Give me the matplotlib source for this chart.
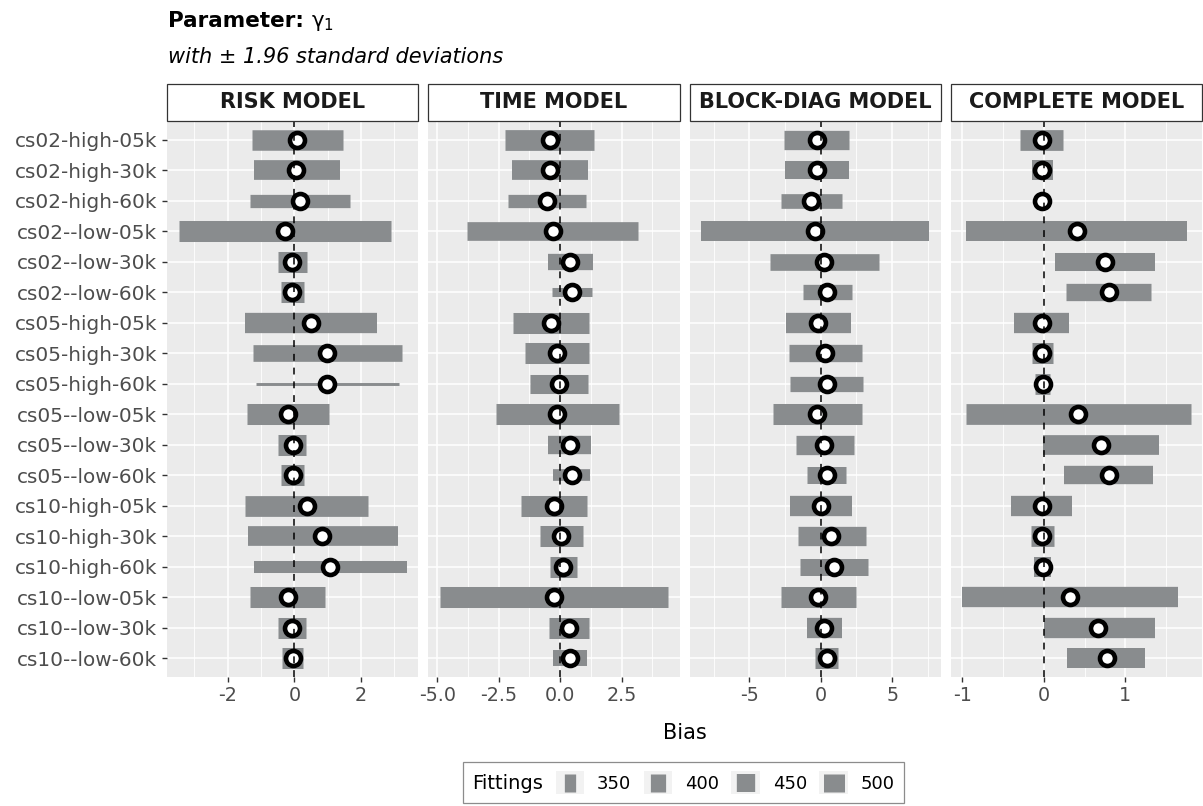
import matplotlib
matplotlib.use('Agg')
import matplotlib.pyplot as plt
import numpy as np
from matplotlib.lines import Line2D
from matplotlib.patches import Rectangle
from matplotlib.legend_handler import HandlerBase
from matplotlib.offsetbox import HPacker
from matplotlib.ticker import FixedLocator, FixedFormatter, AutoMinorLocator

plt.rcParams['font.family'] = ['DejaVu Sans']
plt.rcParams['axes.unicode_minus'] = False
plt.rcParams['mathtext.fontset'] = 'dejavusans'

# ---------------- data ----------------
scenarios = ["cs02-high-05k", "cs02-high-30k", "cs02-high-60k", "cs02--low-05k",
             "cs02--low-30k", "cs02--low-60k", "cs05-high-05k", "cs05-high-30k",
             "cs05-high-60k", "cs05--low-05k", "cs05--low-30k", "cs05--low-60k",
             "cs10-high-05k", "cs10-high-30k", "cs10-high-60k", "cs10--low-05k",
             "cs10--low-30k", "cs10--low-60k"]

models = ["RISK MODEL", "TIME MODEL", "BLOCK-DIAG MODEL", "COMPLETE MODEL"]

risk_mean = [0.08, 0.06, 0.16, -0.29, -0.07, -0.07, 0.50, 0.98, 0.99, -0.20, -0.05, -0.05,
             0.38, 0.84, 1.07, -0.20, -0.07, -0.05]
risk_lower = [-1.27, -1.20, -1.34, -3.47, -0.50, -0.39, -1.47, -1.25, -1.15, -1.42, -0.48, -0.40,
              -1.48, -1.39, -1.22, -1.32, -0.49, -0.37]
risk_upper = [1.46, 1.36, 1.66, 2.90, 0.38, 0.28, 2.47, 3.22, 3.13, 1.03, 0.36, 0.28,
              2.22, 3.10, 3.38, 0.93, 0.35, 0.27]
risk_fit = [490, 475, 373, 500, 500, 500, 486, 422, 293, 500, 500, 500,
            495, 475, 358, 500, 500, 500]

time_mean = [-0.42, -0.42, -0.54, -0.31, 0.40, 0.46, -0.37, -0.12, -0.05, -0.12, 0.38, 0.46,
             -0.27, 0.03, 0.11, -0.26, 0.36, 0.38]
time_lower = [-2.23, -1.97, -2.11, -3.77, -0.49, -0.32, -1.91, -1.42, -1.23, -2.61, -0.50, -0.30,
              -1.60, -0.84, -0.43, -4.89, -0.45, -0.28]
time_upper = [1.36, 1.13, 1.03, 3.15, 1.34, 1.28, 1.19, 1.17, 1.11, 2.39, 1.26, 1.22,
              1.08, 0.93, 0.69, 4.39, 1.17, 1.08]
time_fit = [495, 475, 373, 456, 416, 328, 500, 500, 462, 500, 450, 354,
            500, 500, 500, 500, 500, 411]

block_mean = [-0.28, -0.28, -0.65, -0.40, 0.23, 0.47, -0.19, 0.33, 0.42, -0.23, 0.26, 0.42,
              0.00, 0.75, 0.91, -0.16, 0.23, 0.42]
block_lower = [-2.60, -2.51, -2.81, -8.37, -3.58, -1.21, -2.41, -2.23, -2.14, -3.35, -1.74, -0.98,
               -2.18, -1.56, -1.44, -2.79, -0.93, -0.37]
block_upper = [2.00, 1.98, 1.51, 7.60, 4.10, 2.19, 2.12, 2.91, 2.98, 2.91, 2.33, 1.79,
               2.16, 3.14, 3.28, 2.49, 1.47, 1.21]
block_fit = [467, 444, 392, 480, 422, 401, 486, 432, 400, 500, 467, 427,
             486, 467, 427, 500, 486, 500]

complete_mean = [-0.02, -0.02, -0.02, 0.41, 0.75, 0.80, -0.02, -0.02, -0.01, 0.42, 0.70, 0.80,
                 -0.02, -0.02, -0.01, 0.32, 0.67, 0.77]
complete_lower = [-0.29, -0.14, -0.11, -0.95, 0.14, 0.27, -0.37, -0.15, -0.11, -0.96, -0.01, 0.25,
                  -0.40, -0.16, -0.12, -1.00, 0.00, 0.29]
complete_upper = [0.24, 0.11, 0.07, 1.76, 1.36, 1.32, 0.31, 0.11, 0.08, 1.80, 1.41, 1.34,
                  0.34, 0.12, 0.09, 1.64, 1.36, 1.24]
complete_fit = [495, 480, 370, 480, 444, 432, 486, 500, 495, 495, 475, 450,
                486, 495, 480, 486, 486, 480]

risk_ticks = [-2, 0, 2]
risk_tick_labels = ["-2", "0", "2"]
time_ticks = [-5.0, -2.5, 0.0, 2.5]
time_tick_labels = ["-5.0", "-2.5", "0.0", "2.5"]
block_ticks = [-5, 0, 5]
block_tick_labels = ["-5", "0", "5"]
complete_ticks = [-1, 0, 1]
complete_tick_labels = ["-1", "0", "1"]

fitting_breaks = [350, 400, 450, 500]

# ---------------- style ----------------
BAR = '#898c8e'
PANEL_BG = '#ebebeb'
KEY_BG = '#f2f2f2'
DPI = 100


def fit_to_lw(f):
    px = np.sqrt(np.clip(127.7 + (np.asarray(f, dtype=float) - 350.0) * 2.09, 4.0, None))
    return px * 72.0 / DPI


panels = [
    (models[0], risk_mean, risk_lower, risk_upper, risk_fit, risk_ticks, risk_tick_labels),
    (models[1], time_mean, time_lower, time_upper, time_fit, time_ticks, time_tick_labels),
    (models[2], block_mean, block_lower, block_upper, block_fit, block_ticks, block_tick_labels),
    (models[3], complete_mean, complete_lower, complete_upper, complete_fit, complete_ticks, complete_tick_labels),
]

W, H = 1203, 806
fig, axes = plt.subplots(1, 4, figsize=(W / DPI, H / DPI), dpi=DPI, sharey=True)
fig.subplots_adjust(left=167.3 / W, right=1202.0 / W, bottom=1 - 676.7 / H, top=1 - 121.7 / H,
                    wspace=10.0 / 251.3)

ypos = np.arange(len(scenarios))
panel_h_px = 676.7 - 121.7

for ax, (name, mean, lo, hi, fit, ticks, tlabels) in zip(axes, panels):
    ax.set_facecolor(PANEL_BG)
    for s in ax.spines.values():
        s.set_visible(False)
    lc = ax.hlines(ypos, lo, hi, colors=BAR, linewidths=fit_to_lw(fit), zorder=2)
    lc.set_capstyle('butt')
    ax.plot(mean, ypos, 'o', ms=10.8, mfc='white', mec='black', mew=3.3, zorder=3, linestyle='none')
    ax.axvline(0, color='black', lw=1.1, linestyle=(0, (4.5, 4.5)), zorder=4)
    ax.margins(x=0.05)
    ax.set_ylim(len(scenarios) - 0.4, -0.6)
    ax.xaxis.set_major_locator(FixedLocator(ticks))
    ax.xaxis.set_major_formatter(FixedFormatter(tlabels))
    ax.xaxis.set_minor_locator(AutoMinorLocator(2))
    ax.grid(True, which='major', color='white', lw=1.15, zorder=0)
    ax.grid(True, which='minor', axis='x', color='white', lw=0.6, zorder=0)
    ax.set_axisbelow(True)
    ax.tick_params(axis='x', which='major', length=3.6, width=1.0, color='#333333',
                   labelsize=13.8, labelcolor='#4d4d4d', pad=3.2)
    ax.tick_params(axis='x', which='minor', length=0)
    ax.tick_params(axis='y', length=3.6, width=1.0, color='#333333', labelsize=14.4,
                   labelcolor='#4d4d4d', pad=3.6)
    # strip
    ax.add_patch(Rectangle((0, 1 + 1.0 / panel_h_px), 1, 36.7 / panel_h_px, transform=ax.transAxes,
                           facecolor='white', edgecolor='#333333', lw=0.9, clip_on=False, zorder=5))
    ax.text(0.5, 1 + (1.0 + 36.7 / 2) / panel_h_px, name, transform=ax.transAxes, ha='center',
            va='center', fontsize=15, fontweight='bold', color='#1a1a1a', zorder=6)

axes[0].set_yticks(ypos)
axes[0].set_yticklabels(scenarios)
for ax in axes[1:]:
    ax.tick_params(axis='y', left=False, labelleft=False)

# titles
t1 = fig.text(168 / W, 1 - 26.7 / H, "Parameter:", fontsize=15.5, fontweight='bold',
              ha='left', va='baseline', color='black')
fig.canvas.draw()
bb = t1.get_window_extent(fig.canvas.get_renderer())
fig.text((bb.x1 + 7) / W, 1 - 26.7 / H, r"$\mathregular{\gamma}_{\mathregular{1}}$",
         fontsize=15.5, ha='left', va='baseline', color='black')
fig.text(168 / W, 1 - 63 / H, "with \u00b1 1.96 standard deviations", fontsize=15, style='italic',
         ha='left', va='baseline', color='black')
fig.text(684.5 / W, 1 - 733 / H, "Bias", fontsize=15, ha='center', va='center', color='black')


# legend
class HandlerVBar(HandlerBase):
    def create_artists(self, legend, orig_handle, xdescent, ydescent, width, height, fontsize, trans):
        bg = Rectangle((-xdescent, -ydescent), width, height, facecolor=KEY_BG, edgecolor='none',
                       transform=trans)
        cx = -xdescent + width / 2.0
        ln = Line2D([cx, cx], [-ydescent + 0.1 * height, -ydescent + 0.9 * height],
                    color=orig_handle.get_color(), lw=orig_handle.get_linewidth(),
                    solid_capstyle='butt', transform=trans)
        return [bg, ln]


handles = [Line2D([], [], color=BAR, lw=fit_to_lw(b)) for b in fitting_breaks]
leg = fig.legend(handles=handles, labels=[str(b) for b in fitting_breaks], title='Fittings',
                 ncol=4, loc='center', bbox_to_anchor=(683.4 / W, 1 - 782.8 / H),
                 bbox_transform=fig.transFigure, fontsize=13, title_fontsize=14,
                 handlelength=1.6, handleheight=1.6, handletextpad=0.68, columnspacing=0.7,
                 borderpad=0.5, frameon=True, fancybox=False, edgecolor='#8c8c8c',
                 framealpha=1, handler_map={Line2D: HandlerVBar()})
leg.get_frame().set_linewidth(0.9)
try:
    old = leg._legend_box
    hp = HPacker(pad=old.pad, sep=9.0, align='baseline', children=old.get_children())
    hp.set_figure(fig)
    hp.axes = leg.axes
    hp.set_offset(leg._findoffset)
    leg._legend_box = hp
except Exception:
    pass

fig.savefig('out.png', dpi=DPI)
